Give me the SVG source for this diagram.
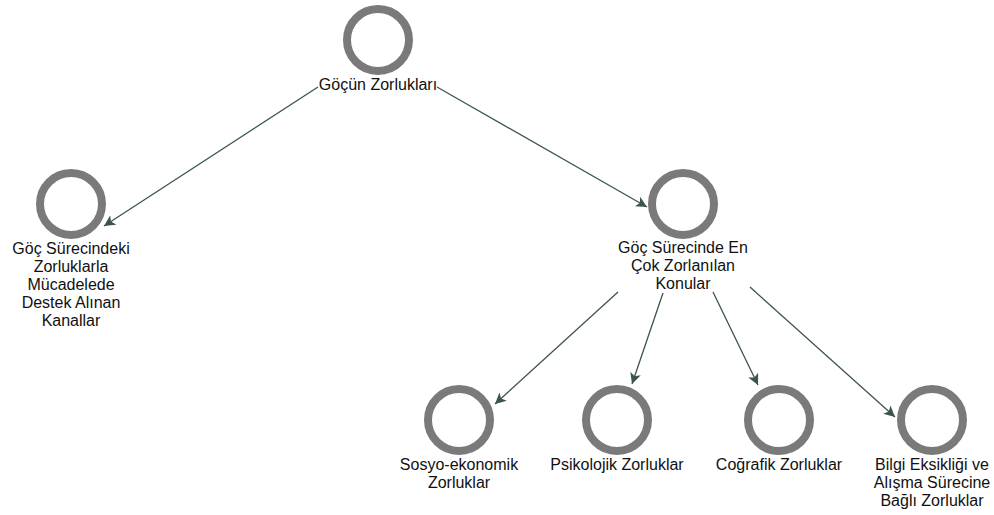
<svg xmlns="http://www.w3.org/2000/svg" width="994" height="515" viewBox="0 0 994 515">
<style>
.ring{fill:#fff;stroke:#7a7a7a;stroke-width:8}
.lbl{font-family:"Liberation Sans",Arial,sans-serif;font-size:16px;fill:#111;text-anchor:middle}
.edge{stroke:#3b5450;stroke-width:1.3;fill:none;marker-end:url(#ah)}
</style>
<defs>
<marker id="ah" viewBox="0 0 10 10" refX="10" refY="5" markerWidth="11" markerHeight="11" markerUnits="userSpaceOnUse" orient="auto">
<path d="M0,0 L10,5 L0,10 L2.5,5 Z" fill="#3b5450"/>
</marker>
</defs>
<rect width="994" height="515" fill="#fff"/>
<g id="connectors">
<line class="edge" x1="318" y1="87" x2="104" y2="226"/>
<line class="edge" x1="437" y1="87" x2="647" y2="207"/>
<line class="edge" x1="618" y1="292" x2="495" y2="404"/>
<line class="edge" x1="663" y1="293" x2="632" y2="384"/>
<line class="edge" x1="713" y1="292" x2="758" y2="385"/>
<line class="edge" x1="750" y1="287" x2="895" y2="417"/>
</g>
<g id="n0">
<circle class="ring" cx="378" cy="40" r="31"/>
<text class="lbl" x="378" y="90">Göçün Zorlukları</text>
</g>
<g id="n1">
<circle class="ring" cx="71" cy="204" r="31"/>
<text class="lbl" x="71" y="254">Göç Sürecindeki</text>
<text class="lbl" x="71" y="272">Zorluklarla</text>
<text class="lbl" x="71" y="290">Mücadelede</text>
<text class="lbl" x="71" y="308">Destek Alınan</text>
<text class="lbl" x="71" y="326">Kanallar</text>
</g>
<g id="n2">
<circle class="ring" cx="683" cy="204" r="31"/>
<text class="lbl" x="683" y="253">Göç Sürecinde En</text>
<text class="lbl" x="683" y="271">Çok Zorlanılan</text>
<text class="lbl" x="683" y="289">Konular</text>
</g>
<g id="n3">
<circle class="ring" cx="459" cy="420" r="31"/>
<text class="lbl" x="459" y="470">Sosyo-ekonomik</text>
<text class="lbl" x="459" y="488">Zorluklar</text>
</g>
<g id="n4">
<circle class="ring" cx="617" cy="420" r="31"/>
<text class="lbl" x="617" y="470">Psikolojik Zorluklar</text>
</g>
<g id="n5">
<circle class="ring" cx="779" cy="420" r="31"/>
<text class="lbl" x="779" y="470">Coğrafik Zorluklar</text>
</g>
<g id="n6">
<circle class="ring" cx="932" cy="420" r="31"/>
<text class="lbl" x="932" y="470">Bilgi Eksikliği ve</text>
<text class="lbl" x="932" y="488">Alışma Sürecine</text>
<text class="lbl" x="932" y="506">Bağlı Zorluklar</text>
</g>
</svg>
